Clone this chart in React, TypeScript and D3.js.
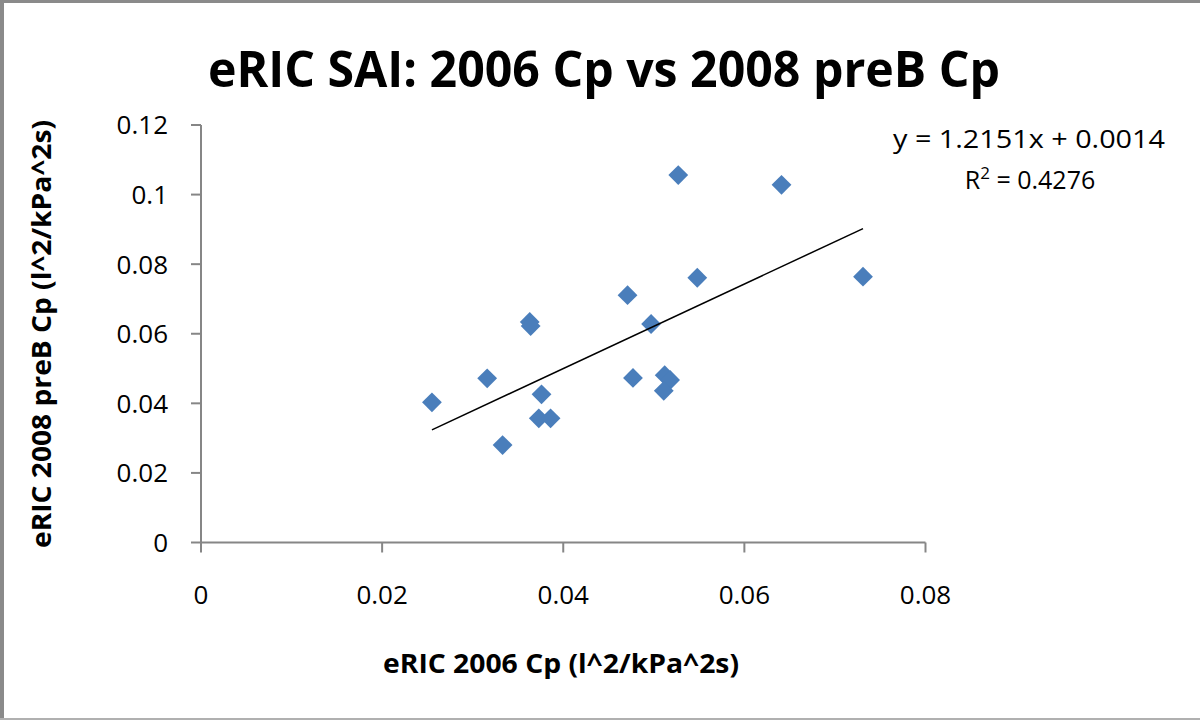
import React from "react";
import * as d3 from "d3";

const xValues = [0.0255, 0.0316, 0.0333, 0.0363, 0.0364, 0.0376, 0.0373, 0.0386, 0.0471, 0.0477, 0.0497, 0.0512, 0.0518, 0.0511, 0.0527, 0.0548, 0.0641, 0.0731];
const yValues = [0.0403, 0.0472, 0.0280, 0.0634, 0.0622, 0.0426, 0.0357, 0.0357, 0.0711, 0.0473, 0.0628, 0.0481, 0.0467, 0.0436, 0.1056, 0.0761, 0.1028, 0.0764];
const xTicks = [0, 0.02, 0.04, 0.06, 0.08];
const yTicks = [0, 0.02, 0.04, 0.06, 0.08, 0.1, 0.12];
const slope = 1.2151;
const intercept = 0.0014;
const titleText = "eRIC SAI: 2006 Cp vs 2008 preB Cp";
const xTitle = "eRIC 2006 Cp (l^2/kPa^2s)";
const yTitle = "eRIC 2008 preB Cp (l^2/kPa^2s)";
const eqText = "y = 1.2151x + 0.0014";
const r2Value = "0.4276";

const W = 1200;
const H = 720;
const FONT = "'Open Sans', sans-serif";
const AXIS = "#868686";
const BLUE = "#4A7EBB";

export default function App() {
  const x = d3.scaleLinear().domain([0, 0.08]).range([201, 925.5]);
  const y = d3.scaleLinear().domain([0, 0.12]).range([542.5, 125]);
  const pts = xValues.map((v, i) => ({ x: v, y: yValues[i] }));
  const xMin = d3.min(xValues) as number;
  const xMax = d3.max(xValues) as number;
  const line = d3.line<number>().x((d) => x(d)).y((d) => y(slope * d + intercept));
  const diamond = d3.symbol().type(d3.symbolDiamond2).size(250)();
  const fmt = (v: number) => (v === 0 ? "0" : String(+v.toFixed(2)));

  return (
    <div style={{ position: "fixed", left: 0, top: 0 }}>
      <svg width={W} height={H} style={{ display: "block", background: "#fff" }}>
        <rect x={0} y={0} width={W} height={H} fill="#fff" />
        {/* border */}
        <line x1={2} y1={0} x2={2} y2={H} stroke="#8a8a8a" strokeWidth={4} />
        <line x1={0} y1={1.5} x2={W} y2={1.5} stroke="#8a8a8a" strokeWidth={3} />
        <line x1={0} y1={H - 1} x2={W} y2={H - 1} stroke="#b0b0b0" strokeWidth={2} />

        <text x={604} y={87} textAnchor="middle" fontFamily={FONT} fontWeight={700} fontSize={50}
          textLength={792} lengthAdjust="spacingAndGlyphs" fill="#000">{titleText}</text>

        {/* axes */}
        <line x1={x(0)} y1={y(0)} x2={x(0.08)} y2={y(0)} stroke={AXIS} strokeWidth={2} />
        <line x1={x(0)} y1={y(0)} x2={x(0)} y2={y(0.12)} stroke={AXIS} strokeWidth={2} />
        {xTicks.map((t) => (
          <g key={"xt" + t}>
            <line x1={x(t)} y1={y(0)} x2={x(t)} y2={y(0) + 10} stroke={AXIS} strokeWidth={2} />
            <text x={x(t)} y={604} textAnchor="middle" fontFamily={FONT} fontSize={26} fill="#000">{fmt(t)}</text>
          </g>
        ))}
        {yTicks.map((t) => (
          <g key={"yt" + t}>
            <line x1={x(0) - 10} y1={y(t)} x2={x(0)} y2={y(t)} stroke={AXIS} strokeWidth={2} />
            <text x={168} y={y(t)} dy="0.36em" textAnchor="end" fontFamily={FONT} fontSize={26} fill="#000">{fmt(t)}</text>
          </g>
        ))}

        <text x={561} y={673} textAnchor="middle" fontFamily={FONT} fontWeight={700} fontSize={27}
          textLength={356} lengthAdjust="spacingAndGlyphs" fill="#000">{xTitle}</text>
        <text transform="translate(51,334) rotate(-90)" textAnchor="middle" fontFamily={FONT} fontWeight={700} fontSize={27}
          textLength={428} lengthAdjust="spacingAndGlyphs" fill="#000">{yTitle}</text>

        {/* points */}
        {pts.map((p, i) => (
          <path key={"p" + i} d={diamond as string} transform={`translate(${x(p.x)},${y(p.y)})`} fill={BLUE} />
        ))}

        {/* trendline */}
        <path d={line([xMin, xMax]) as string} fill="none" stroke="#000" strokeWidth={1.5} />

        <text x={1029} y={148} textAnchor="middle" fontFamily={FONT} fontSize={25}
          textLength={272} lengthAdjust="spacingAndGlyphs" fill="#000">{eqText}</text>
        <text x={1030} y={189} textAnchor="middle" fontFamily={FONT} fontSize={25} fill="#000">
          R<tspan dy={-10} fontSize={17}>2</tspan><tspan dy={10}> = {r2Value}</tspan>
        </text>
      </svg>
    </div>
  );
}
